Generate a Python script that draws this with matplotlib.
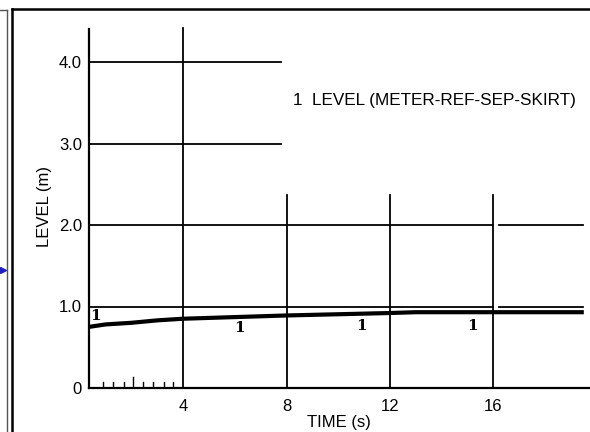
import matplotlib
matplotlib.use("Agg")
import matplotlib.pyplot as plt
from matplotlib.lines import Line2D

plt.rcParams['font.family'] = ['Liberation Sans', 'DejaVu Sans']

# level trace
time_s = [0.36, 1, 2, 3, 4, 6, 8, 10, 12, 13, 16, 19.5]
level_m = [0.75, 0.78, 0.80, 0.83, 0.85, 0.87, 0.89, 0.905, 0.92, 0.93, 0.93, 0.93]

# positions of the "1" curve markers
mark_t = [0.6, 6.2, 10.9, 15.2]
mark_y = [0.88, 0.74, 0.76, 0.76]

x_ticks = [4, 8, 12, 16]
x_labels = ['4', '8', '12', '16']
y_ticks = [0, 1, 2, 3, 4]
y_labels = ['0', '1.0', '2.0', '3.0', '4.0']

# grid: horizontal lines and their right ends, vertical lines and their tops
h_lines = [1.0, 2.0, 3.0, 4.0]
h_ends = [19.45, 19.45, 7.8, 7.8]
v_lines = [4, 8, 12, 16]
v_tops = [4.42, 2.37, 2.37, 2.37]

minor_t = [0.9, 1.3, 1.7, 2.05, 2.45, 2.85, 3.25, 3.6]

fig = plt.figure(figsize=(5.9, 4.32), dpi=100)
ax = fig.add_axes([89 / 590, 44 / 432, 500 / 590, 4.45 * 81.5 / 432])
ax.set_xlim(0.36, 19.7)
ax.set_ylim(0, 4.45)

for s in ['top', 'right']:
    ax.spines[s].set_visible(False)
ax.spines['left'].set_linewidth(1.6)
ax.spines['bottom'].set_linewidth(1.6)
ax.spines['left'].set_bounds(0, 4.4)

# gridlines drawn by hand, like the scanned chart
for y, xe in zip(h_lines, h_ends):
    if xe > 16:
        ax.plot([0.36, 16], [y, y], color='black', lw=1.3)
        ax.plot([16.2, xe], [y, y], color='black', lw=1.3)
    else:
        ax.plot([0.36, xe], [y, y], color='black', lw=1.3)
for x, yt in zip(v_lines, v_tops):
    ax.plot([x, x], [0, yt], color='black', lw=1.3)

# small ticks on the time axis
for i, t in enumerate(minor_t):
    h = 0.13 if i == 3 else 0.07
    ax.plot([t, t], [0, h], color='black', lw=1.0)

ax.plot(time_s, level_m, color='black', lw=3.0, solid_capstyle='butt')
for t, y in zip(mark_t, mark_y):
    ax.text(t, y, '1', fontsize=11, fontweight='bold', family='DejaVu Serif',
            ha='center', va='center')

ax.text(8.25, 3.53, '1  LEVEL (METER-REF-SEP-SKIRT)', fontsize=12.3, va='center', ha='left')

ax.set_xticks(x_ticks)
ax.set_xticklabels(x_labels, fontsize=12)
ax.set_yticks(y_ticks)
ax.set_yticklabels(y_labels, fontsize=12)
ax.tick_params(axis='both', length=0)
ax.tick_params(axis='x', pad=8)
ax.tick_params(axis='y', pad=5)
ax.set_xlabel('TIME (s)', fontsize=12, labelpad=1)
ax.set_ylabel('LEVEL (m)', fontsize=12, labelpad=5)

# page frames
W, H = 590, 432
fig.add_artist(Line2D([12 / W, 12 / W], [0, 1 - 9 / H], color='black', lw=1.8))
fig.add_artist(Line2D([12 / W, 1], [1 - 9 / H, 1 - 9 / H], color='black', lw=1.8))
fig.add_artist(Line2D([7 / W, 7 / W], [0, 1 - 10 / H], color='#555555', lw=1.0))
fig.add_artist(Line2D([0, 7 / W], [1 - 10 / H, 1 - 10 / H], color='#555555', lw=1.0))
fig.add_artist(Line2D([3 / W], [1 - 270 / H], marker='>', color='#2020c0', markersize=4, lw=0))

fig.savefig('out.png', dpi=100)
